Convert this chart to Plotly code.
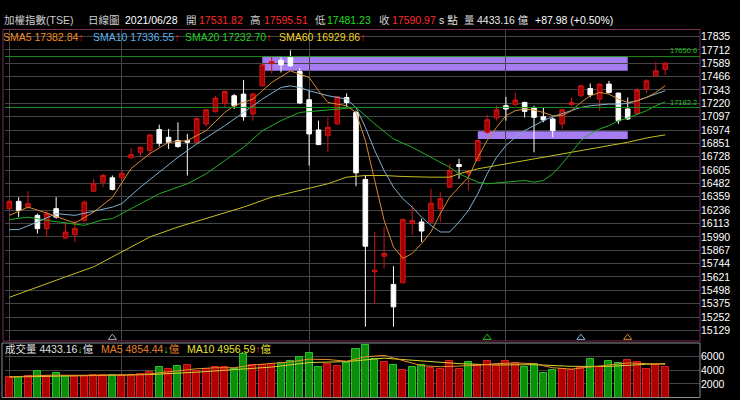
import plotly.graph_objects as go

# trading days 2021-03-16 .. 2021-06-28 (TAIEX, daily)
dates = (
    ['2021-03-%02d' % d for d in [16, 17, 18, 19, 22, 23, 24, 25, 26, 29, 30, 31]]
    + ['2021-04-%02d' % d for d in [1, 6, 7, 8, 9, 12, 13, 14, 15, 16, 19, 20, 21, 22, 23, 26, 27, 28, 29, 30]]
    + ['2021-05-%02d' % d for d in [3, 4, 5, 6, 7, 10, 11, 12, 13, 14, 17, 18, 19, 20, 21, 24, 25, 26, 27, 28, 31]]
    + ['2021-06-%02d' % d for d in [1, 2, 3, 4, 7, 8, 9, 10, 11, 15, 16, 17, 18, 21, 22, 23, 24, 25, 28]]
)

open_ = [16250, 16317, 16264, 16188, 16066, 16250, 15980, 16011, 16142, 16411,
         16494, 16534, 16534, 16718, 16769, 16785, 16978, 16907, 16877, 16877,
         16861, 17030, 17143, 17221, 17290, 17305, 17122, 17381, 17586, 17617,
         17648, 17513, 17253, 16975, 16922, 17030, 17274, 17136, 16519, 15668,
         15812, 15552, 15567, 16112, 16127, 16127, 16250, 16448, 16656, 16576,
         16693, 16953, 17085, 17198, 17207, 17228, 17182, 17097, 17076, 17030,
         17207, 17290, 17357, 17259, 17397, 17314, 17168, 17127, 17351, 17473, 17531.82]
high = [16332, 16356, 16411, 16204, 16234, 16356, 16127, 16142, 16326, 16525,
        16571, 16555, 16601, 16806, 16822, 16935, 17024, 16984, 17045, 16938,
        17091, 17168, 17290, 17336, 17305, 17434, 17320, 17581, 17657, 17648,
        17709, 17544, 17336, 17060, 17091, 17290, 17311, 17152, 16555, 16035,
        16081, 15720, 16158, 16280, 16158, 16433, 16402, 16663, 16709, 16608,
        16883, 17115, 17198, 17280, 17320, 17235, 17198, 17182, 17091, 17168,
        17274, 17388, 17403, 17403, 17427, 17320, 17274, 17366, 17443, 17605, 17595.51]
low = [16234, 16172, 16250, 16020, 15989, 16158, 15968, 15943, 16127, 16402,
       16448, 16418, 16509, 16712, 16723, 16739, 16822, 16800, 16810, 16555,
       16852, 17005, 17136, 17182, 17168, 17060, 17060, 17375, 17494, 17504,
       17556, 17213, 16647, 16835, 16769, 17025, 17189, 16457, 15163, 15377,
       15699, 15163, 15561, 16005, 15943, 16117, 16127, 16442, 16525, 16418,
       16686, 16938, 17060, 17060, 17200, 17091, 16769, 17045, 16907, 16984,
       17198, 17280, 17274, 17152, 17311, 17030, 17067, 17122, 17311, 17464, 17481.23]
close = [16317, 16234, 16296, 16066, 16204, 16172, 16035, 16066, 16310, 16479,
         16555, 16427, 16576, 16748, 16815, 16929, 16852, 16861, 16822, 16861,
         17081, 17161, 17269, 17329, 17198, 17097, 17305, 17574, 17605, 17574,
         17566, 17223, 16938, 16840, 16999, 17280, 17228, 16580, 15904, 15683,
         15837, 15346, 16151, 16140, 16044, 16301, 16341, 16601, 16638, 16595,
         16877, 17069, 17160, 17168, 17250, 17146, 17091, 17067, 16968, 17161,
         17228, 17381, 17299, 17397, 17320, 17060, 17076, 17342, 17427, 17519, 17590.97]
volume = [3050, 3050, 3200, 3940, 3200, 3540, 3200, 3200, 3100, 3300,
          3300, 3300, 3300, 3350, 3450, 3790, 4420, 4190, 4630, 4820,
          3830, 4190, 4530, 4420, 4190, 6300, 4680, 4680, 4920, 5010,
          5310, 5900, 6490, 4530, 4920, 4570, 5010, 7140, 7620, 5660,
          5160, 4820, 4090, 4420, 4680, 4340, 4190, 5310, 4190, 5260,
          4820, 5310, 4820, 5310, 5010, 4420, 4920, 3540, 4040, 4190,
          4040, 4340, 5660, 4420, 5310, 5010, 5410, 5160, 4190, 4820, 4433.16]

# moving averages (bar index, value)
sma5_idx = [0, 2, 4, 7, 9, 11, 13, 15, 17, 19, 21, 23, 24, 26, 28, 30, 32] + list(range(33, 71))
sma5 = [16188, 16264, 16209, 16117, 16218, 16353, 16620, 16757, 16861, 16877,
        16968, 17136, 17198, 17259, 17412, 17519, 17458,
        17336, 17228, 17213, 17198, 17136, 16877, 16509, 16142, 15897, 15791,
        15837, 15928, 16035, 16204, 16356, 16448, 16540, 16723, 16877, 16999,
        17106, 17152, 17168, 17158, 17136, 17106, 17106, 17152, 17228, 17290,
        17320, 17305, 17259, 17228, 17244, 17274, 17320, 17382.84]
sma10_idx = [0, 1, 3, 5, 7, 9, 11, 12, 14, 16, 18, 20, 23, 25, 27, 29, 30, 31, 32] + list(range(34, 71))
sma10 = [16057, 16057, 16127, 16204, 16188, 16225, 16264, 16296, 16448, 16586,
         16723, 16846, 17014, 17136, 17259, 17366, 17381, 17366, 17336,
         17290, 17274, 17259, 17182, 16999, 16785, 16601, 16448, 16341, 16264,
         16172, 16096, 16035, 16035, 16127, 16234, 16387, 16571, 16723, 16831,
         16907, 16968, 17014, 17060, 17097, 17127, 17158, 17182, 17198, 17207,
         17213, 17213, 17219, 17244, 17274, 17305, 17336.55]
sma20_idx = [0, 2, 4, 6, 8, 10, 11, 13, 16, 19, 21, 23, 25, 27, 29, 31, 33, 35, 37, 39,
             41, 43, 45, 47, 48, 50, 51, 53, 55, 56] + list(range(57, 71))
sma20 = [16149, 16172, 16142, 16117, 16096, 16149, 16158, 16250, 16387, 16479,
         16571, 16693, 16815, 16968, 17060, 17136, 17152, 17168, 17182, 17030,
         16892, 16815, 16723, 16631, 16571, 16494, 16479, 16494, 16509, 16494,
         16509, 16571, 16663, 16769, 16877, 16938, 16984, 17014, 17060, 17085,
         17115, 17152, 17198, 17232.70]
sma60_idx = [0, 3, 6, 9, 12, 15, 18, 21, 23, 25, 28, 31, 34, 36, 38, 40, 42, 45, 47, 48,
             50, 52, 55, 58, 61, 64, 66, 68, 70]
sma60 = [15433, 15530, 15622, 15714, 15851, 15989, 16081, 16158, 16209, 16264,
         16356, 16418, 16479, 16540, 16555, 16555, 16546, 16540, 16540, 16571,
         16617, 16647, 16693, 16739, 16785, 16831, 16861, 16901, 16929.86]

vol_ma5_idx = [0, 4, 8, 12, 15, 18, 20, 22, 24, 26, 28, 30, 32, 34, 36, 38, 40, 42, 44, 46,
               48, 50, 52, 54, 56, 58, 60, 62, 64, 66, 68, 70]
vol_ma5 = [3000, 3250, 3250, 3250, 3450, 3950, 4200, 4350, 4350, 4750, 4950, 5200,
           5600, 5550, 5300, 5950, 6150, 5450, 4650, 4500, 4550, 4700, 4950, 5050,
           4950, 4350, 4150, 4450, 4750, 5050, 4950, 4854.44]
vol_ma10_idx = [0, 5, 10, 15, 20, 24, 28, 32, 36, 40, 44, 48, 52, 56, 60, 64, 68, 70]
vol_ma10 = [3000, 3150, 3250, 3350, 3700, 4050, 4450, 5100, 5250, 5750, 5400, 4950,
            4750, 4800, 4550, 4550, 4850, 4956.59]

# support / resistance zones: (first bar, last bar, low, high)
zones = [(27, 66, 17519, 17657), (50, 66, 16892, 16962)]
levels = [17650.6, 17182.2]
signal_idx = [11, 51, 61, 66]
signal_colors = ['#b0b0b0', '#22c022', '#7fb8e0', '#d08a30']

price_ticks = [15129 + 123 * k for k in range(23)]
vol_ticks = [2000, 4000, 6000]

W, H = 740, 400
FONT = 'Liberation Sans, Arial, Noto Sans CJK TC'


def py(p):
    return 1 - p / H


idx = list(range(len(close)))
month_lines = [0] + [i for i in range(1, len(dates)) if dates[i][:7] != dates[i - 1][:7]]
vol_colors = ['#b00000' if i == 0 or close[i] >= close[i - 1] else '#0b8f0b' for i in idx]
vol_lines = ['#d82020' if c == '#b00000' else '#2fc02f' for c in vol_colors]

fig = go.Figure()

fig.add_trace(go.Candlestick(
    x=idx, open=open_, high=high, low=low, close=close,
    increasing=dict(line=dict(color='#d01515', width=1), fillcolor='#a50000'),
    decreasing=dict(line=dict(color='#ffffff', width=1), fillcolor='#ffffff'),
    whiskerwidth=0, hovertext=dates, showlegend=False
))

for xs, ys, col in [(sma60_idx, sma60, '#c8c020'), (sma20_idx, sma20, '#22b022'),
                    (sma10_idx, sma10, '#7fb0d0'), (sma5_idx, sma5, '#d88a30')]:
    fig.add_trace(go.Scatter(x=xs, y=ys, mode='lines', line=dict(color=col, width=1),
                             showlegend=False, hoverinfo='skip'))

fig.add_trace(go.Scatter(
    x=signal_idx, y=[15062] * len(signal_idx), mode='markers',
    marker=dict(symbol='triangle-up-open', size=7, color=signal_colors, line=dict(width=1)),
    showlegend=False, hoverinfo='skip'
))

fig.add_trace(go.Bar(
    x=idx, y=volume, width=0.75, xaxis='x2', yaxis='y2',
    marker=dict(color=vol_colors, line=dict(color=vol_lines, width=1)),
    showlegend=False, hovertext=dates
))
for xs, ys, col in [(vol_ma10_idx, vol_ma10, '#d8d030'), (vol_ma5_idx, vol_ma5, '#e8902a')]:
    fig.add_trace(go.Scatter(x=xs, y=ys, mode='lines', line=dict(color=col, width=1),
                             xaxis='x2', yaxis='y2', showlegend=False, hoverinfo='skip'))

shapes = []
for x0, x1, lo, hi in zones:
    shapes.append(dict(type='rect', xref='x', yref='y', x0=x0, x1=x1, y0=lo, y1=hi,
                       fillcolor='#a67cf2', line=dict(width=0), layer='below'))
for lv in levels:
    shapes.append(dict(type='line', xref='paper', yref='y', x0=5 / W, x1=700 / W, y0=lv, y1=lv,
                       line=dict(color='#1f8f1f', width=1)))
shapes.append(dict(type='rect', xref='paper', yref='paper', x0=3 / W, x1=700 / W,
                   y0=py(341), y1=py(29.5), line=dict(color='#7d2c57', width=1)))
shapes.append(dict(type='rect', xref='paper', yref='paper', x0=2 / W, x1=700 / W,
                   y0=py(397.5), y1=py(343), line=dict(color='#8c8c8c', width=1)))

annotations = []


def label(x, y, text, color='#d0d0d0', size=10.5):
    annotations.append(dict(xref='paper', yref='paper', x=x / W, y=py(y), text=text,
                            xanchor='left', yanchor='middle', showarrow=False,
                            font=dict(family=FONT, size=size, color=color)))


RED, GREEN = '#ff2a2a', '#22dd22'
row1 = [
    (2, '加權指數(TSE)', '#cfcfcf'), (86, '日線圖', '#cfcfcf'),
    (123, '2021/06/28', '#ffffff'), (184, '開', '#cfcfcf'),
    (197, '%.2f' % open_[-1], RED), (248, '高', '#cfcfcf'),
    (262, '%.2f' % high[-1], RED), (313, '低', '#cfcfcf'),
    (325, '%.2f' % low[-1], GREEN), (377, '收', '#cfcfcf'),
    (390, '%.2f' % close[-1], RED), (437, 's 點', '#e8e8e8'),
    (462, '量', '#cfcfcf'), (475, '%.2f 億' % volume[-1], '#e8e8e8'),
    (533, '+87.98 (+0.50%)', '#ffffff'),
]
for x, t, c in row1:
    label(x, 20, t, c)

up = '<span style="color:#ff2020">↑</span>'
down = '<span style="color:#22dd22">↓</span>'
row2 = [(1, 'SMA5 %.2f' % sma5[-1], '#f08a24'), (91, 'SMA10 %.2f' % sma10[-1], '#5fb4ea'),
        (183, 'SMA20 %.2f' % sma20[-1], '#1fd01f'), (277, 'SMA60 %.2f' % sma60[-1], '#f0d020')]
for x, t, c in row2:
    label(x, 36.5, t + up, c, 10.5)

label(3, 349, '成交量 %.2f' % volume[-1] + down + '億', '#e0e0e0', 10.5)
label(99, 349, 'MA5 %.2f' % vol_ma5[-1] + down + '億', '#e8802a', 10.5)
label(185, 349, 'MA10 %.2f' % vol_ma10[-1] + up + '億', '#e8e030', 10.5)

for lv, y in zip(levels, [51, 102]):
    annotations.append(dict(xref='paper', yref='paper', x=699 / W, y=py(y),
                            text='%.1f' % lv, xanchor='right', yanchor='middle',
                            showarrow=False, font=dict(family=FONT, size=7.5, color='#22c022')))

x_range = [(5 - 9.3) / 9.37, (700 - 9.3) / 9.37]
grid = '#454545'
fig.update_layout(
    width=W, height=H,
    margin=dict(l=0, r=0, t=0, b=0),
    paper_bgcolor='#000000', plot_bgcolor='#000000',
    showlegend=False, hovermode='closest',
    bargap=0,
    xaxis=dict(domain=[5 / W, 700 / W], range=x_range, anchor='y',
               tickvals=month_lines, showticklabels=False, ticks='',
               showgrid=True, gridcolor=grid, zeroline=False,
               rangeslider=dict(visible=False)),
    yaxis=dict(domain=[py(341), py(29.5)], range=[15031, 17900], side='right',
               anchor='x', tickvals=price_ticks, ticktext=[str(v) for v in price_ticks],
               tickfont=dict(family=FONT, size=10.5, color='#ffffff'),
               showgrid=True, gridcolor=grid, zeroline=False, ticks=''),
    xaxis2=dict(domain=[5 / W, 700 / W], range=x_range, anchor='y2', matches='x',
                tickvals=month_lines, showticklabels=False, ticks='',
                showgrid=True, gridcolor=grid, zeroline=False),
    yaxis2=dict(domain=[py(397.5), py(343)], range=[0, 7965], side='right',
                anchor='x2', tickvals=vol_ticks,
                tickfont=dict(family=FONT, size=10.5, color='#ffffff'),
                showgrid=True, gridcolor=grid, zeroline=False, ticks=''),
    shapes=shapes,
    annotations=annotations,
)

fig.write_html('out.html', config={'displayModeBar': False},
               post_script="document.body.style.margin='0';document.body.style.background='#000';")
